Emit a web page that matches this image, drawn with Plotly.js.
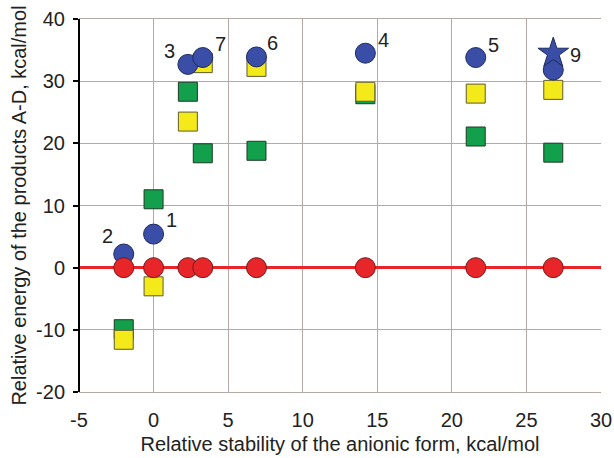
<!DOCTYPE html>
<html>
<head>
<meta charset="utf-8">
<script src="https://cdn.plot.ly/plotly-3.0.1.min.js"></script>
<style>html,body{margin:0;padding:0;background:#fff;}#chart{width:614px;height:458px;}</style>
</head>
<body>
<div id="chart"></div>
<script>
// Relative stability of the anionic form (x) for each compound
var xStab = [-2.0, 0.0, 2.3, 3.3, 6.9, 14.2, 21.6, 26.8];
// Relative energies of products A-D (kcal/mol)
var energyRed    = [0, 0, 0, 0, 0, 0, 0, 0];
var energyBlue   = [2.2, 5.4, 32.7, 33.8, 33.9, 34.5, 33.8, 31.8];
var energyYellow = [-11.6, -3.0, 23.5, 32.9, 32.3, 28.3, 28.0, 28.6];
var energyGreen  = [-9.9, 11.0, 28.3, 18.4, 18.8, 27.9, 21.1, 18.5];
// star point (compound 9)
var starX = [26.8];
var starY = [34.5];
// compound labels on the blue points
var labels = ['2', '1', '3', '7', '6', '4', '5', '9'];
var labelIdx = [0, 1, 2, 3, 4, 5, 6];
// tick labels
var xTickVals = [-5, 0, 5, 10, 15, 20, 25, 30];
var xTickText = ['-5', '0', '5', '10', '15', '20', '25', '30'];
var yTickVals = [-20, -10, 0, 10, 20, 30, 40];
var yTickText = ['-20', '-10', '0', '10', '20', '30', '40'];

var font = 'Liberation Sans, Arial, sans-serif';
var fs = 20;

var traces = [
  {x: xStab, y: energyGreen, type: 'scatter', mode: 'markers', hoverinfo: 'none',
   marker: {symbol: 'square', size: 19, color: '#12a04c', line: {color: '#1f3a26', width: 1}}},
  {x: xStab, y: energyYellow, type: 'scatter', mode: 'markers', hoverinfo: 'none',
   marker: {symbol: 'square', size: 19, color: '#f4ea1a', line: {color: '#5e5a2e', width: 1}}},
  {x: xStab, y: energyBlue, type: 'scatter', mode: 'markers', hoverinfo: 'none',
   marker: {symbol: 'circle', size: 20, color: '#3a4ea8', line: {color: '#1e2a5e', width: 1}}},
  {x: starX, y: starY, type: 'scatter', mode: 'markers', hoverinfo: 'none',
   marker: {symbol: 'star', size: 23, color: '#3a4ea8', line: {color: '#1e2a5e', width: 1}}},
  {x: xStab, y: energyRed, type: 'scatter', mode: 'markers', hoverinfo: 'none',
   marker: {symbol: 'circle', size: 20, color: '#e8262a', line: {color: '#6e1a1a', width: 1}}}
];

var offsets = [[-16, 18], [18, 14], [-18, 13], [18, 14], [16, 14], [18, 13], [18, 13]];
var annotations = labelIdx.map(function (i, k) {
  return {x: xStab[i], y: energyBlue[i], xref: 'x', yref: 'y', text: labels[i],
    showarrow: false, xshift: offsets[k][0], yshift: offsets[k][1],
    font: {family: font, size: fs, color: '#222'}};
});
annotations.push({x: starX[0], y: starY[0], xref: 'x', yref: 'y', text: labels[7],
  showarrow: false, xshift: 22, yshift: -2, font: {family: font, size: fs, color: '#222'}});

var layout = {
  width: 614, height: 458,
  margin: {l: 79, r: 13, t: 19, b: 66},
  paper_bgcolor: '#fff', plot_bgcolor: '#fff',
  showlegend: false,
  font: {family: font, size: fs, color: '#222'},
  xaxis: {
    range: [-5, 30], tickmode: 'array', tickvals: xTickVals, ticktext: xTickText,
    showgrid: true, gridcolor: '#b3aaa8', gridwidth: 1.2,
    zeroline: false, showline: true, linecolor: '#b3aaa8', linewidth: 1.2, mirror: true,
    ticks: '', ticklen: 0, ticklabelstandoff: 10, automargin: false,
    tickfont: {family: font, size: fs, color: '#222'},
    title: {text: 'Relative stability of the anionic form, kcal/mol', standoff: 6,
            font: {family: font, size: fs, color: '#222'}}
  },
  yaxis: {
    range: [-20, 40], tickmode: 'array', tickvals: yTickVals, ticktext: yTickText,
    showgrid: true, gridcolor: '#b3aaa8', gridwidth: 1.2,
    zeroline: true, zerolinecolor: '#e8262a', zerolinewidth: 2.5,
    showline: false, automargin: false,
    ticks: 'outside', ticklen: 5, tickwidth: 2, tickcolor: '#000', ticklabelstandoff: 4,
    tickfont: {family: font, size: fs, color: '#222'},
    title: {text: 'Relative energy of the products A-D, kcal/mol', standoff: 4,
            font: {family: font, size: fs, color: '#222'}}
  },
  shapes: [
    {type: 'line', xref: 'paper', yref: 'paper', x0: 0, x1: 0, y0: 0, y1: 1,
     line: {color: '#000', width: 2}}
  ],
  annotations: annotations
};

Plotly.newPlot('chart', traces, layout, {staticPlot: true, displayModeBar: false});
</script>
</body>
</html>
